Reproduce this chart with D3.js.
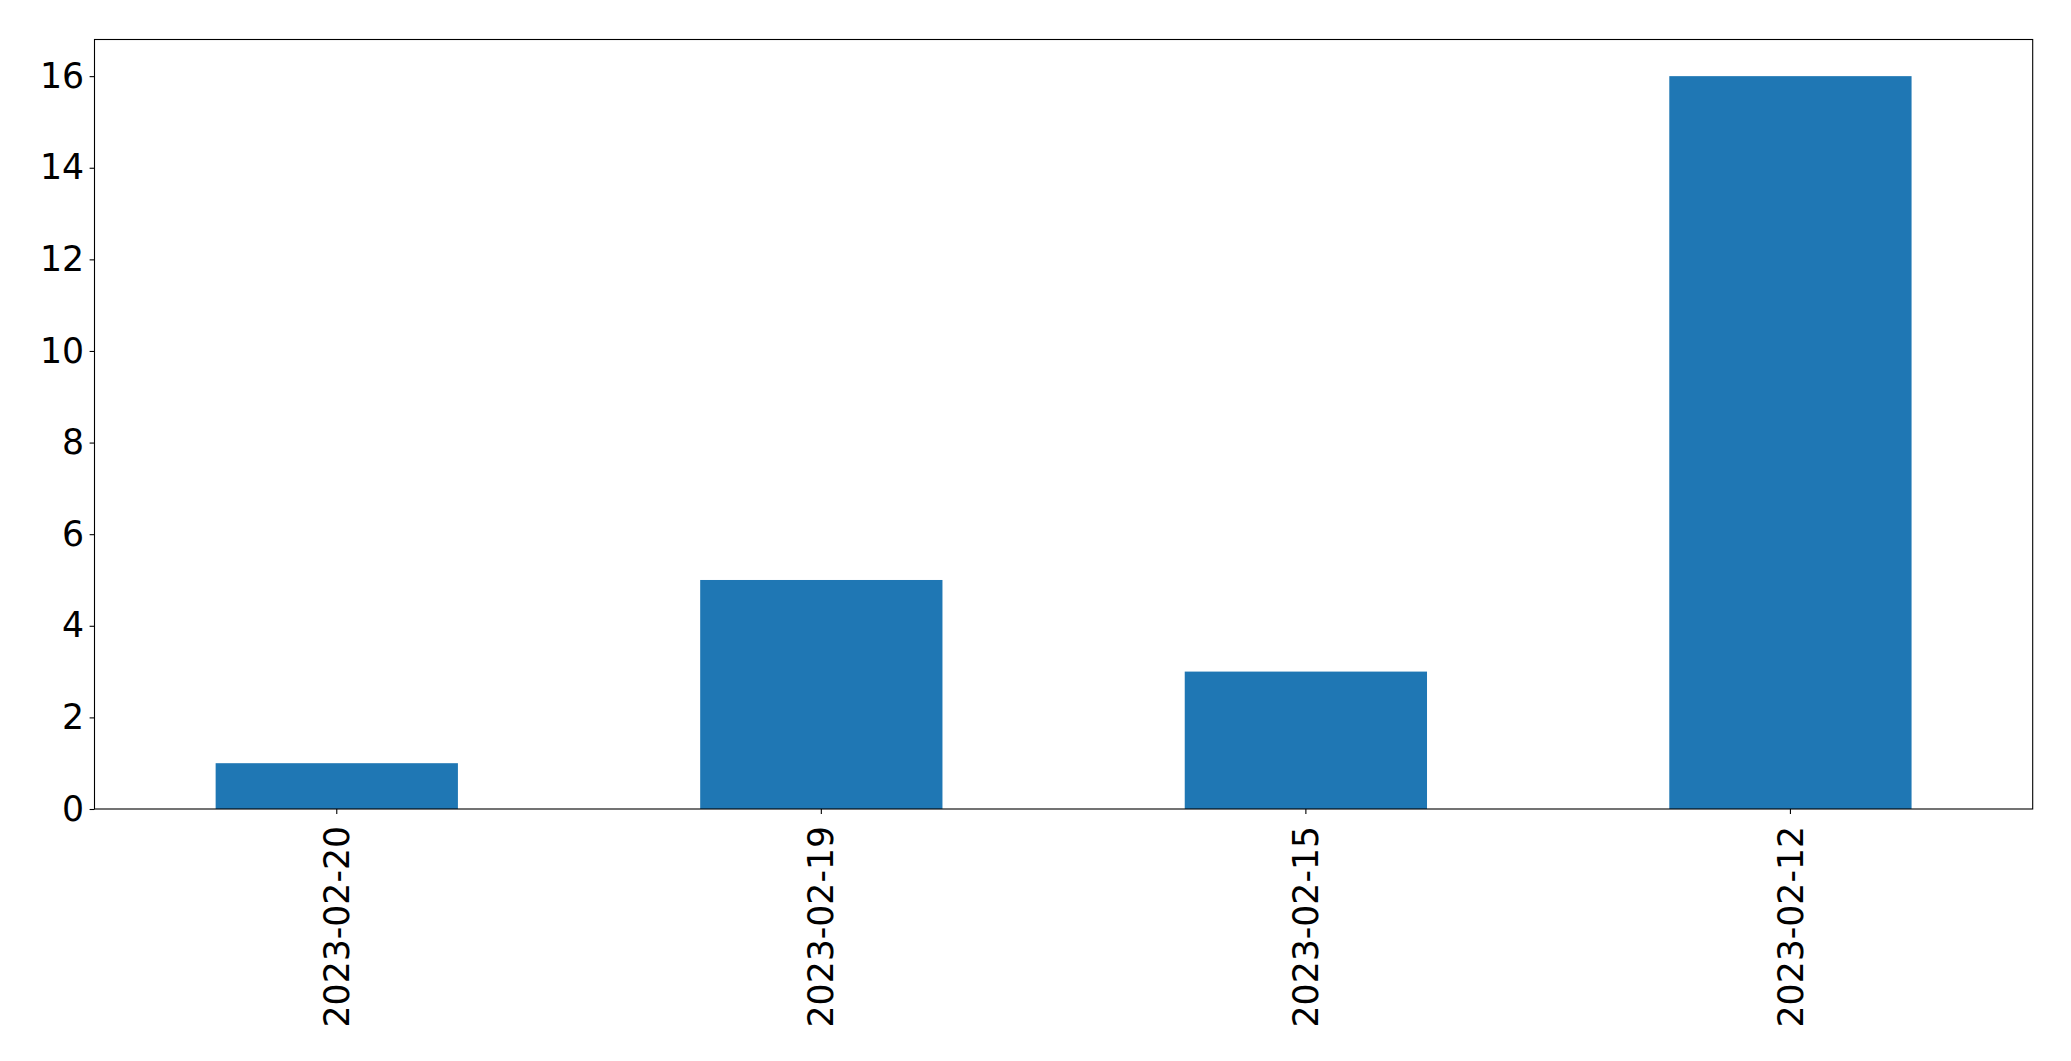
<!DOCTYPE html>
<html>
<head>
<meta charset="utf-8">
<script src="https://cdn.jsdelivr.net/npm/d3@7"></script>
<style>
  html, body { margin: 0; padding: 0; background: #fff; }
  svg { display: block; }
  text { font-family: "DejaVu Sans", sans-serif; }
</style>
</head>
<body>
<svg id="chart" width="2071" height="1061"></svg>
<script>
const categories = ["2023-02-20", "2023-02-19", "2023-02-15", "2023-02-12"];
const values = [1, 5, 3, 16];
const yTicks = [0, 2, 4, 6, 8, 10, 12, 14, 16];

const W = 2071, H = 1061;
const margin = { left: 94.5, right: W - 2032.7, top: 39.5, bottom: H - 809 };
const pw = W - margin.left - margin.right;
const ph = H - margin.top - margin.bottom;
const fontSize = 34.7;
const tickLen = 4.9;

const svg = d3.select("#chart");
const g = svg.append("g").attr("transform", `translate(${margin.left},${margin.top})`);

const x = d3.scaleBand().domain(categories).range([0, pw]).paddingInner(0.5).paddingOuter(0.25);
const y = d3.scaleLinear().domain([0, d3.max(values) * 1.05]).range([ph, 0]);

g.selectAll("rect.bar")
  .data(categories.map((c, i) => ({ c, v: values[i] })))
  .enter().append("rect")
  .attr("class", "bar")
  .attr("x", d => x(d.c))
  .attr("width", x.bandwidth())
  .attr("y", d => y(d.v))
  .attr("height", d => y(0) - y(d.v))
  .attr("fill", "#1f77b4");

// y axis
const yAxis = g.append("g")
  .call(d3.axisLeft(y).tickValues(yTicks).tickFormat(d3.format("d")).tickSize(tickLen).tickPadding(5.5));
yAxis.select(".domain").remove();
yAxis.selectAll("line").attr("stroke", "#000").attr("stroke-width", 1.1);
yAxis.selectAll("text").attr("font-size", fontSize).attr("fill", "#000")
  .attr("font-family", "DejaVu Sans");

// x axis
const xAxis = g.append("g").attr("transform", `translate(0,${ph})`)
  .call(d3.axisBottom(x).tickSize(tickLen).tickPadding(0));
xAxis.select(".domain").remove();
xAxis.selectAll("line").attr("stroke", "#000").attr("stroke-width", 1.1);
xAxis.selectAll("text")
  .attr("font-size", fontSize).attr("fill", "#000").attr("font-family", "DejaVu Sans")
  .attr("text-anchor", "end")
  .attr("dy", "0.35em")
  .attr("transform", `translate(0,${tickLen + 12}) rotate(-90)`)
  .attr("y", 0).attr("x", 0);

// frame
g.append("rect").attr("x", 0).attr("y", 0).attr("width", pw).attr("height", ph)
  .attr("fill", "none").attr("stroke", "#000").attr("stroke-width", 1.1);
</script>
</body>
</html>
